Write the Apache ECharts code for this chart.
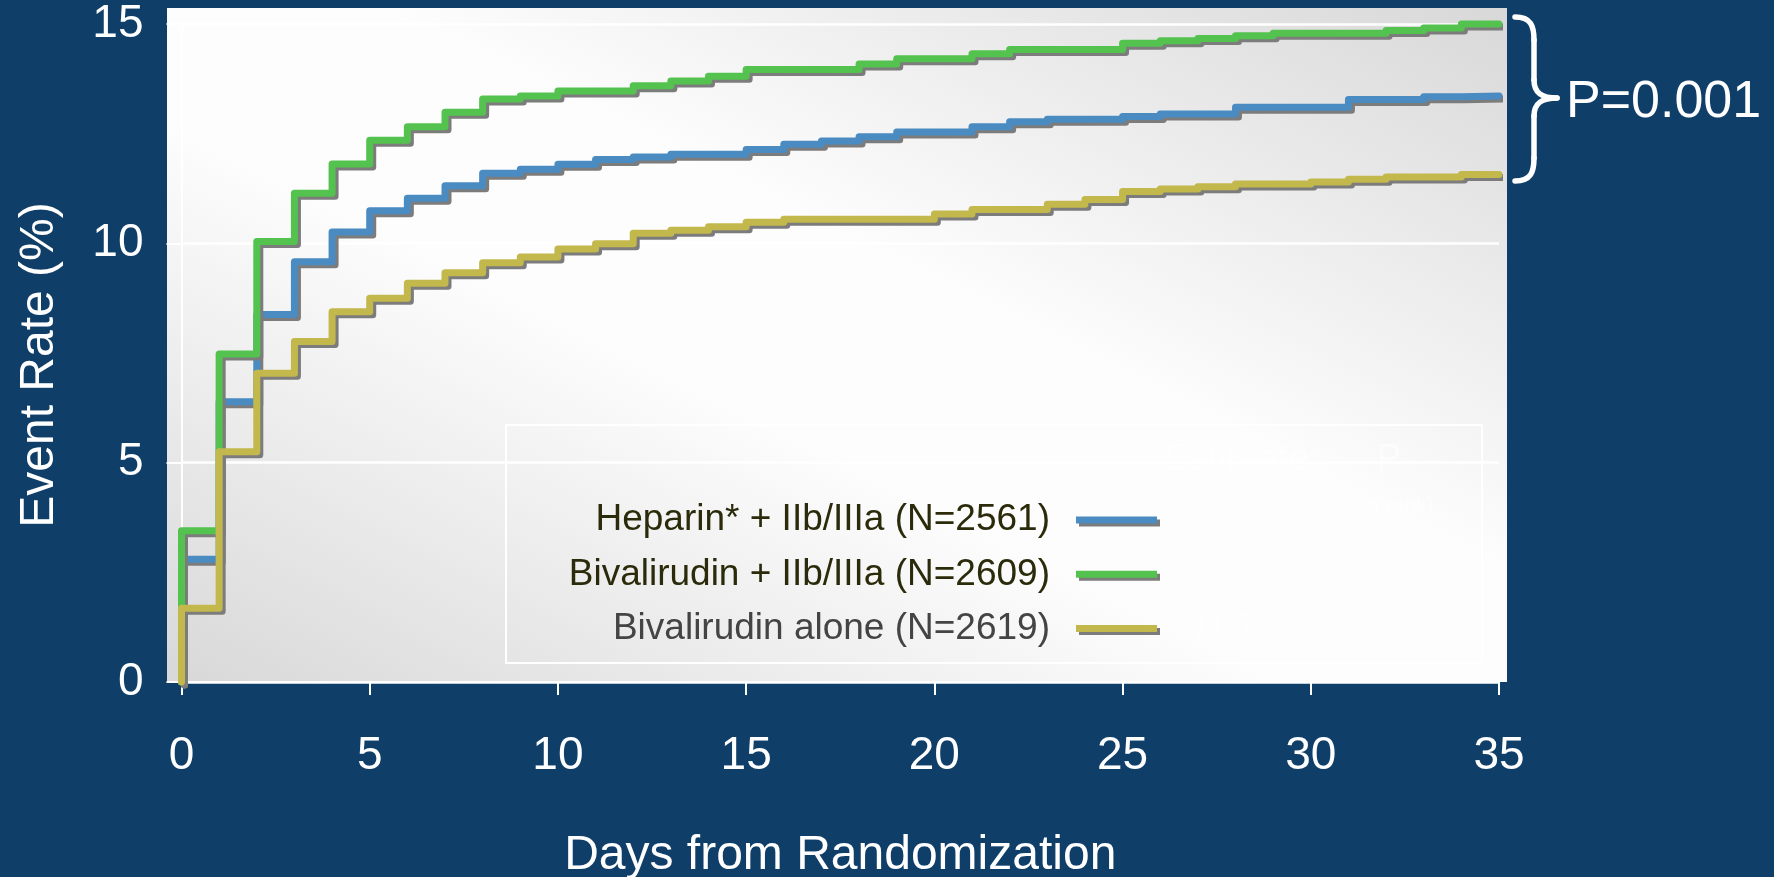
<!DOCTYPE html>
<html>
<head>
<meta charset="utf-8">
<title>Event Rate by Treatment Arm</title>
<script src="https://cdn.jsdelivr.net/npm/echarts@6/dist/echarts.min.js"></script>
<style>
  html, body { margin: 0; padding: 0; background: #0f3e69; }
  #chart { width: 1774px; height: 877px; }
</style>
</head>
<body>
<div id="chart"></div>
<script>
// Kaplan-Meier style cumulative event rates (%): each value holds from that day to the next.
const days = [0, 1, 2, 3, 4, 5, 6, 7, 8, 9, 10, 11, 12, 13, 14, 15, 16, 17,
              18, 19, 20, 21, 22, 23, 24, 25, 26, 27, 28, 29, 30, 31, 32, 33, 34];
const lastDay = 35;

const heparinIIbIIIa = [2.80, 6.39, 8.38, 9.58, 10.26, 10.74, 11.03, 11.31, 11.60, 11.69,
                        11.80, 11.91, 11.97, 12.03, 12.03, 12.14, 12.26, 12.33, 12.43, 12.54,
                        12.54, 12.66, 12.77, 12.83, 12.83, 12.89, 12.95, 12.95, 13.10, 13.10,
                        13.10, 13.28, 13.28, 13.34, 13.36];
const bivalirudinIIbIIIa = [3.45, 7.48, 10.04, 11.14, 11.81, 12.35, 12.66, 12.99, 13.29, 13.36,
                            13.47, 13.47, 13.59, 13.70, 13.81, 13.96, 13.96, 13.96, 14.09, 14.21,
                            14.21, 14.32, 14.42, 14.42, 14.42, 14.56, 14.62, 14.67, 14.73, 14.79,
                            14.79, 14.79, 14.85, 14.91, 15.00];
const bivalirudinAlone = [1.68, 5.25, 7.04, 7.76, 8.44, 8.75, 9.09, 9.33, 9.56, 9.69,
                          9.87, 9.99, 10.23, 10.30, 10.38, 10.48, 10.55, 10.55, 10.55, 10.55,
                          10.67, 10.77, 10.77, 10.89, 11.00, 11.18, 11.24, 11.29, 11.35, 11.35,
                          11.40, 11.46, 11.51, 11.51, 11.57];

const seriesNames = ['Heparin* + IIb/IIIa (N=2561)', 'Bivalirudin + IIb/IIIa (N=2609)', 'Bivalirudin alone (N=2619)'];
const seriesColors = ['#4a8bc2', '#54c24e', '#c2b84c'];
const legendTextColors = ['#2b2b0b', '#2b2b0b', '#444444'];

const xTickInterval = 5;
const yTickInterval = 5;
const yMax = 15;
const pValueText = 'P=0.001';

const FONT = '"Liberation Sans", Arial, Helvetica, sans-serif';

// Turn per-day levels into points: start at 0, hold the last level until the final day.
function stepPoints(levels) {
  const pts = [[days[0], 0]];
  levels.forEach((v, i) => pts.push([days[i], v]));
  pts.push([lastDay, levels[levels.length - 1]]);
  return pts;
}

const seriesLevels = [heparinIIbIIIa, bivalirudinIIbIIIa, bivalirudinAlone];

const chart = echarts.init(document.getElementById('chart'), null, { renderer: 'canvas' });

const faint = 'rgba(255,255,255,0.55)';

const option = {
  backgroundColor: '#0f3e69',
  animation: false,
  grid: { left: 181.5, right: 275, top: 24, bottom: 195, containLabel: false, outerBoundsMode: 'none' },
  xAxis: {
    type: 'value', min: 0, max: lastDay, interval: xTickInterval,
    name: 'Days from Randomization', nameLocation: 'middle', nameGap: 150, nameMoveOverlap: false,
    nameTextStyle: { color: '#ffffff', fontSize: 48, fontFamily: FONT },
    axisLine: { show: true, onZero: false, lineStyle: { color: '#ffffff', width: 2 } },
    axisTick: { show: true, length: 13, lineStyle: { color: '#ffffff', width: 2 } },
    axisLabel: { color: '#ffffff', fontSize: 46, fontFamily: FONT, margin: 51 },
    splitLine: { show: false }
  },
  yAxis: {
    type: 'value', min: 0, max: yMax, interval: yTickInterval,
    name: 'Event Rate (%)', nameLocation: 'middle', nameGap: 118, nameMoveOverlap: false,
    nameTextStyle: { color: '#ffffff', fontSize: 48, fontFamily: FONT, padding: [0, 24, 0, 0] },
    axisLine: { show: true, onZero: false, lineStyle: { color: '#ffffff', width: 2 } },
    axisTick: { show: true, length: 15, lineStyle: { color: '#ffffff', width: 2 } },
    axisLabel: { color: '#ffffff', fontSize: 46, fontFamily: FONT, margin: 38, padding: [0, 0, 8, 0] },
    splitLine: { show: true, lineStyle: { color: '#ffffff', width: 2.5 } }
  },
  legend: {
    orient: 'vertical', align: 'right', right: 617, top: 497, padding: 0,
    itemWidth: 81, itemHeight: 7, itemGap: 8.3, icon: 'rect', selectedMode: false,
    itemStyle: { shadowColor: '#7c7c7c', shadowOffsetX: 3, shadowOffsetY: 3, shadowBlur: 0 },
    textStyle: { fontSize: 37, fontFamily: FONT, lineHeight: 46, padding: [0, 21, 0, 0] },
    data: seriesNames.map((n, i) => ({ name: n, textStyle: { color: legendTextColors[i] } }))
  },
  series: seriesNames.map((name, i) => ({
    name: name,
    type: 'line',
    step: 'end',
    data: stepPoints(seriesLevels[i]),
    symbol: 'none',
    showSymbol: false,
    clip: false,
    z: 3 + i,
    itemStyle: { color: seriesColors[i] },
    lineStyle: {
      color: seriesColors[i], width: 7, join: 'round', cap: 'round',
      shadowColor: '#7c7c7c', shadowOffsetX: 3, shadowOffsetY: 3, shadowBlur: 0
    },
    emphasis: { disabled: true }
  })),
  graphic: {
    elements: [
      // light panel behind the plot, white along the main diagonal
      {
        type: 'rect', z: -10, silent: true,
        shape: { x: 167, y: 8, width: 1340, height: 674 },
        style: {
          fill: {
            type: 'linear', global: true,
            x: 567, y: 883, x2: 1107, y2: -193,
            colorStops: [
              { offset: 0, color: '#d8d8d8' },
              { offset: 0.42, color: '#fdfdfd' },
              { offset: 0.58, color: '#fdfdfd' },
              { offset: 1, color: '#d8d8d8' }
            ]
          }
        }
      },
      // legend frame
      {
        type: 'rect', z: 1, silent: true,
        shape: { x: 506, y: 425, width: 976, height: 238 },
        style: { fill: null, stroke: '#ffffff', lineWidth: 2 }
      },
      { type: 'text', z: 1, silent: true, x: 1237, y: 460,
        style: { text: 'Estimate', fill: faint, font: '37px ' + FONT, textAlign: 'center', textVerticalAlign: 'middle' } },
      { type: 'text', z: 1, silent: true, x: 1389, y: 460,
        style: { text: 'P', fill: faint, font: '37px ' + FONT, textAlign: 'center', textVerticalAlign: 'middle' } },
      { type: 'text', z: 1, silent: true, x: 1389, y: 506,
        style: { text: '(log rank)', fill: faint, font: '21px ' + FONT, textAlign: 'center', textVerticalAlign: 'middle' } },
      { type: 'text', z: 1, silent: true, x: 1224, y: 628,
        style: { text: '11.7', fill: faint, font: '34px ' + FONT, textAlign: 'center', textVerticalAlign: 'middle' } },
      // curly brace grouping the three curve ends
      { type: 'bezierCurve', z: 5, silent: true,
        shape: { x1: 1515, y1: 17, cpx1: 1531, cpy1: 17, cpx2: 1534, cpy2: 26, x2: 1534, y2: 40 },
        style: { stroke: '#ffffff', lineWidth: 5.5, fill: null, lineCap: 'round' } },
      { type: 'line', z: 5, silent: true,
        shape: { x1: 1534, y1: 40, x2: 1534, y2: 80 },
        style: { stroke: '#ffffff', lineWidth: 5.5, lineCap: 'round' } },
      { type: 'bezierCurve', z: 5, silent: true,
        shape: { x1: 1534, y1: 80, cpx1: 1534, cpy1: 93, cpx2: 1542, cpy2: 98, x2: 1557, y2: 98 },
        style: { stroke: '#ffffff', lineWidth: 5.5, fill: null, lineCap: 'round' } },
      { type: 'bezierCurve', z: 5, silent: true,
        shape: { x1: 1557, y1: 98, cpx1: 1542, cpy1: 98, cpx2: 1534, cpy2: 103, x2: 1534, y2: 116 },
        style: { stroke: '#ffffff', lineWidth: 5.5, fill: null, lineCap: 'round' } },
      { type: 'line', z: 5, silent: true,
        shape: { x1: 1534, y1: 116, x2: 1534, y2: 158 },
        style: { stroke: '#ffffff', lineWidth: 5.5, lineCap: 'round' } },
      { type: 'bezierCurve', z: 5, silent: true,
        shape: { x1: 1534, y1: 158, cpx1: 1534, cpy1: 172, cpx2: 1531, cpy2: 181, x2: 1515, y2: 181 },
        style: { stroke: '#ffffff', lineWidth: 5.5, fill: null, lineCap: 'round' } },
      { type: 'text', z: 5, silent: true, x: 1566, y: 103,
        style: { text: pValueText, fill: '#ffffff', font: '52px ' + FONT, textAlign: 'left', textVerticalAlign: 'middle' } }
    ]
  }
};

chart.setOption(option);
</script>
</body>
</html>
